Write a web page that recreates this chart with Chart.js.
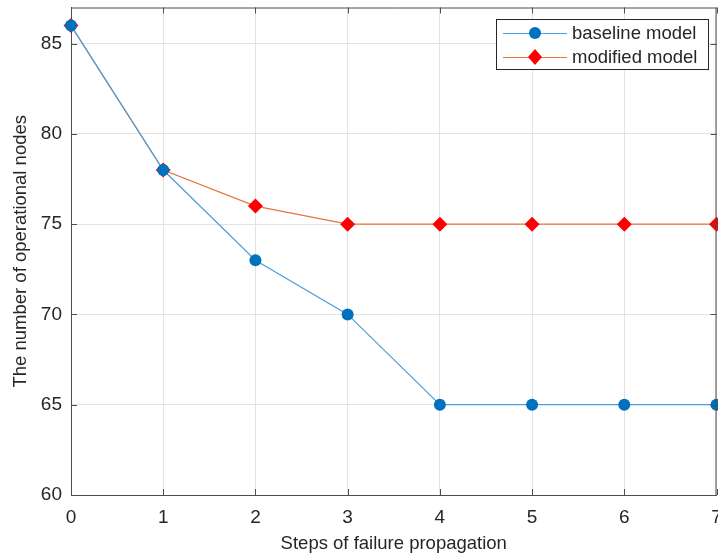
<!DOCTYPE html>
<html>
<head>
<meta charset="utf-8">
<script src="https://cdn.jsdelivr.net/npm/chart.js@4"></script>
<style>
  html, body { margin: 0; background: #fff; overflow: hidden; }
  #wrap { width: 724px; height: 559px; }
</style>
</head>
<body>
<div id="wrap"><canvas id="chart"></canvas></div>
<script>
const steps = [0, 1, 2, 3, 4, 5, 6, 7];
const baselineModel = [86, 78, 73, 70, 65, 65, 65, 65];
const modifiedModel = [86, 78, 76, 75, 75, 75, 75, 75];
const yTicks = [60, 65, 70, 75, 80, 85];

const axisColor = '#4d4d4d';
const fontFamily = 'Arial, "Liberation Sans", sans-serif';

function noPad(scale) {
    scale.paddingLeft = 0;
    scale.paddingRight = 0;
    scale.paddingTop = 0;
    scale.paddingBottom = 0;
}

// box around plot + inward tick marks + legend like matlab
const boxPlugin = {
    id: 'box',
    afterDatasetsDraw(chart) {
        const ctx = chart.ctx;
        const a = chart.chartArea;
        const xs = chart.scales.x, ys = chart.scales.y;
        ctx.save();
        ctx.strokeStyle = axisColor;
        ctx.lineWidth = 1;
        ctx.beginPath();
        ctx.moveTo(a.left, a.top + 0.5);
        ctx.lineTo(a.right, a.top + 0.5);
        ctx.moveTo(a.right - 0.5, a.top);
        ctx.lineTo(a.right - 0.5, a.bottom);
        steps.forEach(v => {
            const px = Math.round(xs.getPixelForValue(v)) + 0.5;
            ctx.moveTo(px, a.bottom);
            ctx.lineTo(px, a.bottom - 6);
            ctx.moveTo(px, a.top);
            ctx.lineTo(px, a.top + 6);
        });
        yTicks.forEach(v => {
            const py = Math.round(ys.getPixelForValue(v)) + 0.5;
            ctx.moveTo(a.left, py);
            ctx.lineTo(a.left + 6, py);
            ctx.moveTo(a.right, py);
            ctx.lineTo(a.right - 6, py);
        });
        ctx.stroke();

        // legend
        const lx = 496, ly = 19, lw = 212, lh = 50;
        ctx.fillStyle = '#fff';
        ctx.fillRect(lx, ly, lw, lh);
        ctx.strokeStyle = '#262626';
        ctx.strokeRect(lx + 0.5, ly + 0.5, lw, lh);
        const rows = [
            { y: 33, ds: chart.data.datasets[0] },
            { y: 57, ds: chart.data.datasets[1] }
        ];
        ctx.font = '18.5px ' + fontFamily;
        ctx.textBaseline = 'middle';
        rows.forEach(r => {
            ctx.strokeStyle = r.ds.borderColor;
            ctx.lineWidth = 1;
            ctx.beginPath();
            ctx.moveTo(503, r.y + 0.5);
            ctx.lineTo(567, r.y + 0.5);
            ctx.stroke();
            ctx.fillStyle = r.ds.pointBackgroundColor;
            ctx.beginPath();
            if (r.ds.pointStyle === 'circle') {
                ctx.arc(535, r.y, 6, 0, Math.PI * 2);
            } else {
                ctx.moveTo(535, r.y - 8);
                ctx.lineTo(542, r.y);
                ctx.lineTo(535, r.y + 8);
                ctx.lineTo(528, r.y);
                ctx.closePath();
            }
            ctx.fill();
            ctx.fillStyle = '#262626';
            ctx.fillText(r.ds.label, 572, r.y + 1);
        });
        ctx.restore();
    }
};

const ctx = document.getElementById('chart').getContext('2d');
const chart = new Chart(ctx, {
    type: 'line',
    data: {
        labels: steps,
        datasets: [
            {
                label: 'baseline model',
                data: baselineModel,
                borderColor: '#4a9fdc',
                borderWidth: 1.2,
                pointStyle: 'circle',
                pointRadius: 6,
                pointBackgroundColor: '#0072BD',
                pointBorderColor: '#0072BD',
                pointBorderWidth: 0,
                clip: false
            },
            {
                label: 'modified model',
                data: modifiedModel,
                borderColor: '#e8733f',
                borderWidth: 1.2,
                pointStyle: 'rectRot',
                pointRadius: 7.5,
                pointBackgroundColor: '#ff0000',
                pointBorderColor: '#ff0000',
                pointBorderWidth: 0,
                clip: false
            }
        ]
    },
    options: {
        responsive: true,
        maintainAspectRatio: false,
        animation: false,
        layout: { padding: { top: 7, right: 1, left: 0, bottom: 0 } },
        plugins: {
            legend: { display: false },
            tooltip: { enabled: false }
        },
        scales: {
            x: {
                type: 'linear',
                min: 0,
                max: 7,
                afterFit(scale) { scale.height = 64; noPad(scale); },
                afterBuildTicks(scale) { scale.ticks = steps.map(v => ({ value: v })); },
                grid: { color: '#e3e3e3', drawTicks: false },
                border: { color: axisColor, width: 1 },
                ticks: {
                    padding: 11,
                    color: '#262626',
                    font: { size: 19, family: fontFamily },
                    maxRotation: 0
                },
                title: {
                    display: true,
                    text: 'Steps of failure propagation',
                    color: '#262626',
                    font: { size: 18.5, family: fontFamily },
                    padding: { top: 4, bottom: 4 }
                }
            },
            y: {
                min: 60,
                max: 87,
                afterFit(scale) { scale.width = 71; noPad(scale); },
                afterBuildTicks(scale) { scale.ticks = yTicks.map(v => ({ value: v })); },
                grid: { color: '#e3e3e3', drawTicks: false },
                border: { color: axisColor, width: 1 },
                ticks: {
                    padding: 9,
                    color: '#262626',
                    font: { size: 19, family: fontFamily }
                },
                title: {
                    display: true,
                    text: 'The number of operational nodes',
                    color: '#262626',
                    font: { size: 18.5, family: fontFamily },
                    padding: { top: 10, bottom: 4 }
                }
            }
        }
    },
    plugins: [boxPlugin]
});
</script>
</body>
</html>
